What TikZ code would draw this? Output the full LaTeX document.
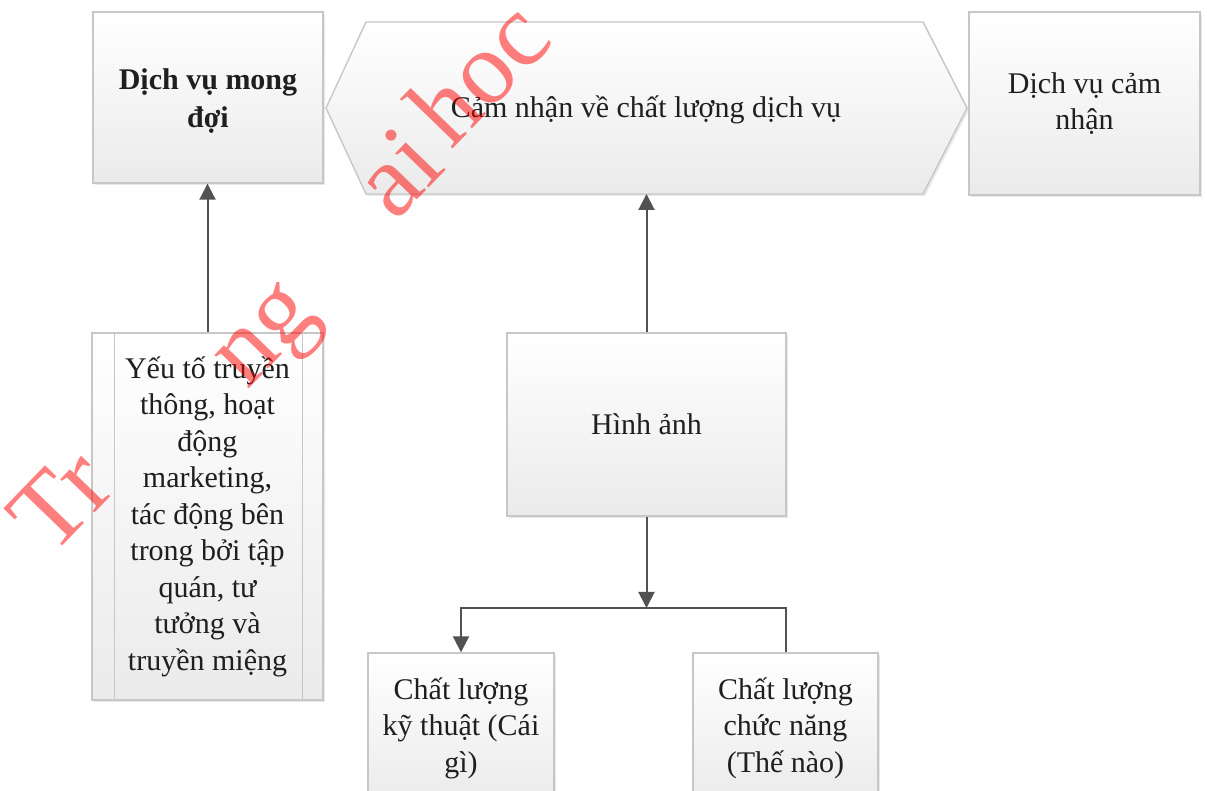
\documentclass[tikz,border=0pt]{standalone}
\usepackage{fontspec}
\setmainfont{Liberation Serif}
\usetikzlibrary{arrows.meta,shadows,calc}
\begin{document}
\begin{tikzpicture}[x=0.5pt,y=-0.5pt,
  boxlook/.style={draw=black!22, line width=0.7pt, top color=white, bottom color=black!8,
    drop shadow={opacity=0.18,shadow xshift=1pt,shadow yshift=-1pt}},
  txt/.style={align=center, inner sep=0pt, text=black!88, font=\fontsize{15}{18.25}\selectfont},
  box/.style={boxlook, txt},
  conn/.style={draw=black!68, line width=1pt},
  tip/.style={-{Triangle[length=8pt,width=8pt]}},
  wm/.style={text=red, text opacity=0.5, font=\fontsize{52}{52}\selectfont, rotate=46, inner sep=0pt}
]
\useasboundingbox (0,0) rectangle (1207,791);
\clip (0,0) rectangle (1207,791);

% hexagon
\path[boxlook] (326,108) -- (366,22) -- (923,22) -- (967,108) -- (923,194) -- (366,194) -- cycle;
\node[txt] (hex) at (646,110) {Cảm nhận về chất lượng dịch vụ};
\coordinate (hexb) at (646,194);

\node[boxlook, minimum width=115pt, minimum height=85.5pt] (A) at (208,97.5) {};
\node[txt, font=\fontsize{15}{19}\selectfont\bfseries] (Atext) at (208,101) {Dịch vụ mong\\đợi};
\node[box, minimum width=115.5pt, minimum height=91.5pt] (C) at (1084.5,103.5) {Dịch vụ cảm\\nhận};
\node[box, minimum width=115.5pt, minimum height=183.5pt] (D) at (207.5,516.5)
  {Yếu tố truyền\\thông, hoạt\\động\\marketing,\\tác động bên\\trong bởi tập\\quán, tư\\tưởng và\\truyền miệng};
\draw[draw=black!22, line width=0.7pt] ([xshift=11.5pt]D.north west) -- ([xshift=11.5pt]D.south west);
\draw[draw=black!22, line width=0.7pt] ([xshift=-10.5pt]D.north east) -- ([xshift=-10.5pt]D.south east);
\node[box, minimum width=139.5pt, minimum height=91.5pt] (H) at (646.5,424.5) {Hình ảnh};
\node[box, minimum width=93pt, minimum height=75pt] (L) at (461,728) {Chất lượng\\kỹ thuật (Cái\\gì)};
\node[box, minimum width=92.5pt, minimum height=75pt] (R) at (785.5,728) {Chất lượng\\chức năng\\(Thế nào)};

% connectors
\draw[conn,tip] (D.north) -- (D.north |- A.south);
\draw[conn,tip] (H.north) -- (H.north |- hexb);
\coordinate (J) at (646.5,608);
\draw[conn,tip] (H.south) -- (J);
\draw[conn,tip] (J) -| (L.north);
\draw[conn] (J) -| (R.north);

% watermark
\node[wm] (w1) at (60,500) {Tr};
\node[wm] (w2) at (272,342) {ng};
\node[wm] (w3) at (397,172) {ai};
\node[wm] (w4) at (478,72) {hoc};
\end{tikzpicture}
\end{document}
